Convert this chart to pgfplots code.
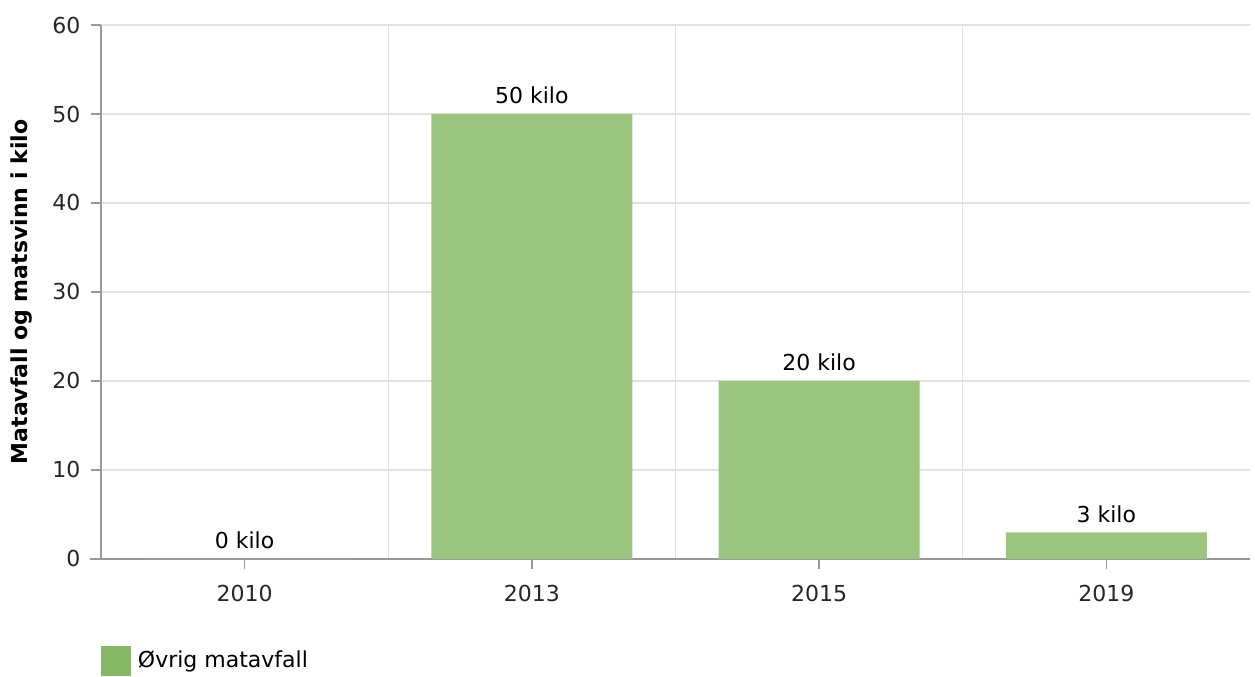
\documentclass[border=0pt]{standalone}
\usepackage{fontspec}
\setmainfont{DejaVu Sans}
\usepackage{pgfplots}
\pgfplotsset{compat=1.18}

\definecolor{barfill}{HTML}{9BC57F}
\definecolor{legfill}{HTML}{86B866}
\definecolor{gridc}{HTML}{E2E2E2}
\definecolor{axisc}{HTML}{999999}

\begin{document}
\fontsize{11}{13}\selectfont
\begin{tikzpicture}
\begin{axis}[
  scale only axis,
  width=574.5pt, height=267pt,
  ymin=0, ymax=60,
  ytick={0,10,...,60},
  xmin=-0.5, xmax=3.5,
  xtick={0,1,2,3},
  xticklabels={2010,2013,2015,2019},
  minor xtick={0.5,1.5,2.5},
  ymajorgrids=true, xminorgrids=true,
  major grid style={gridc, line width=0.6pt},
  minor grid style={gridc, line width=0.6pt},
  axis x line*=bottom,
  axis y line*=left,
  axis line style={axisc, line width=0.8pt, -},
  x axis line style={shorten <=-5.5pt},
  tick style={axisc, line width=0.8pt},
  major tick length=5pt,
  minor tick length=0pt,
  tick align=outside,
  xtick pos=bottom, ytick pos=left,
  ticklabel style={font=\fontsize{11}{13}\selectfont, text=black!85},
  /pgf/number format/assume math mode=true,
  yticklabel style={xshift=-1.5pt},
  xticklabel style={yshift=-4pt},
  ylabel={\bfseries Matavfall og matsvinn i kilo},
  ylabel style={font=\fontsize{11}{13}\selectfont, at={(axis description cs:-0.0688,0.5)}, anchor=center},
  ybar, bar width=0.7,
  nodes near coords={\pgfmathprintnumber{\pgfplotspointmeta} kilo},
  nodes near coords style={font=\fontsize{11}{13}\selectfont, text=black, yshift=1pt},
  legend style={at={(axis description cs:0,-0.163)}, anchor=north west, draw=none,
    inner sep=0pt, outer sep=0pt, font=\fontsize{11}{13}\selectfont, fill=none},
  legend cell align=left,
  legend image code/.code={\fill[legfill] (0pt,-7.5pt) rectangle (15pt,7.5pt);},
]
\addplot[fill=barfill, draw=none] coordinates {(0,0) (1,50) (2,20) (3,3)};
\addlegendentry{\hspace{1.5pt}Øvrig matavfall}
\end{axis}
\useasboundingbox ([shift={(-50.5pt,-58pt)}]current axis.south west) rectangle ([shift={(2.5pt,12.5pt)}]current axis.north east);
\end{tikzpicture}
\end{document}
